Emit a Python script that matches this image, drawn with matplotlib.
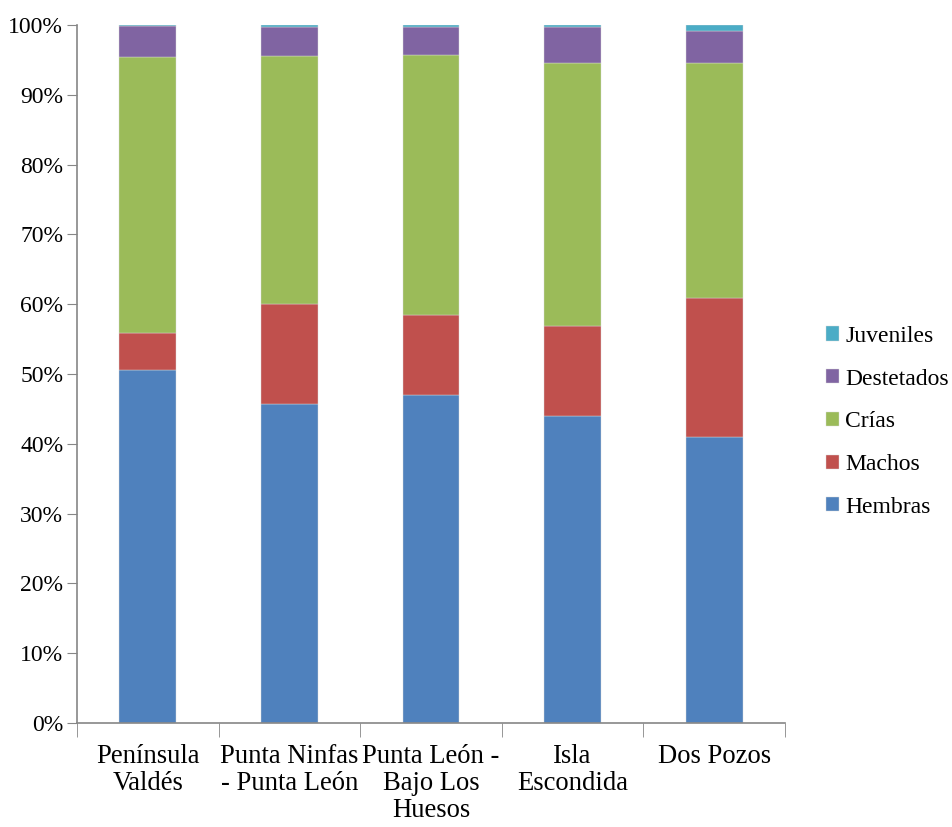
import numpy as np
import matplotlib
matplotlib.use('Agg')
import matplotlib.pyplot as plt
from matplotlib.ticker import FixedLocator, PercentFormatter

# --- Data (percent of each colony) ---
sitios = ["Península\nValdés", "Punta Ninfas\n- Punta León", "Punta León -\nBajo Los\nHuesos",
          "Isla\nEscondida", "Dos Pozos"]
hembras = [50.6, 45.7, 47.0, 44.0, 41.0]
machos = [5.2, 14.3, 11.5, 12.9, 19.9]
crias = [39.6, 35.6, 37.2, 37.6, 33.6]
destetados = [4.4, 4.07, 3.97, 5.26, 4.6]
juveniles = [0.2, 0.33, 0.33, 0.24, 0.9]

series = [("Hembras", hembras, "#4F81BD"),
          ("Machos", machos, "#C0504D"),
          ("Crías", crias, "#9BBB59"),
          ("Destetados", destetados, "#8064A2"),
          ("Juveniles", juveniles, "#4BACC6")]

plt.rcParams['font.family'] = ['Liberation Serif', 'DejaVu Serif']

fig = plt.figure(figsize=(9.52, 8.27), dpi=100)
ax = fig.add_axes([0.0809, 0.1258, 0.7437, 0.844])

x = np.arange(len(sitios))
bottom = np.zeros(len(sitios))
for name, vals, color in series:
    ax.bar(x, vals, width=0.4, bottom=bottom, color=color, label=name,
           edgecolor="#d9d9d9", linewidth=0.3)
    bottom += np.array(vals)

# --- Axes styling ---
ax.set_xlim(-0.5, len(sitios) - 0.5)
ax.set_ylim(0, 100)
ax.yaxis.set_major_locator(FixedLocator(np.arange(0, 101, 10)))
ax.yaxis.set_major_formatter(PercentFormatter(decimals=0))
ax.tick_params(axis='y', labelsize=17, length=7, color="#868686", pad=3)

ax.set_xticks(x)
ax.set_xticklabels(sitios, fontsize=19.2, linespacing=1.12)
ax.tick_params(axis='x', which='major', length=0, pad=15)
ax.set_xticks(np.arange(-0.5, len(sitios)), minor=True)
ax.tick_params(axis='x', which='minor', length=10, color="#868686")

for side in ("top", "right"):
    ax.spines[side].set_visible(False)
for side in ("left", "bottom"):
    ax.spines[side].set_color("#868686")
    ax.spines[side].set_linewidth(1.2)

# --- Legend, reversed so Juveniles is on top ---
handles, labels = ax.get_legend_handles_labels()
fig.legend(handles[::-1], labels[::-1], loc="center left",
           bbox_to_anchor=(0.868, 0.49), frameon=False, fontsize=17,
           handlelength=0.55, handleheight=0.55, handletextpad=0.25,
           labelspacing=0.92, borderaxespad=0, borderpad=0)

plt.savefig("out.png", dpi=100)
plt.close(fig)
